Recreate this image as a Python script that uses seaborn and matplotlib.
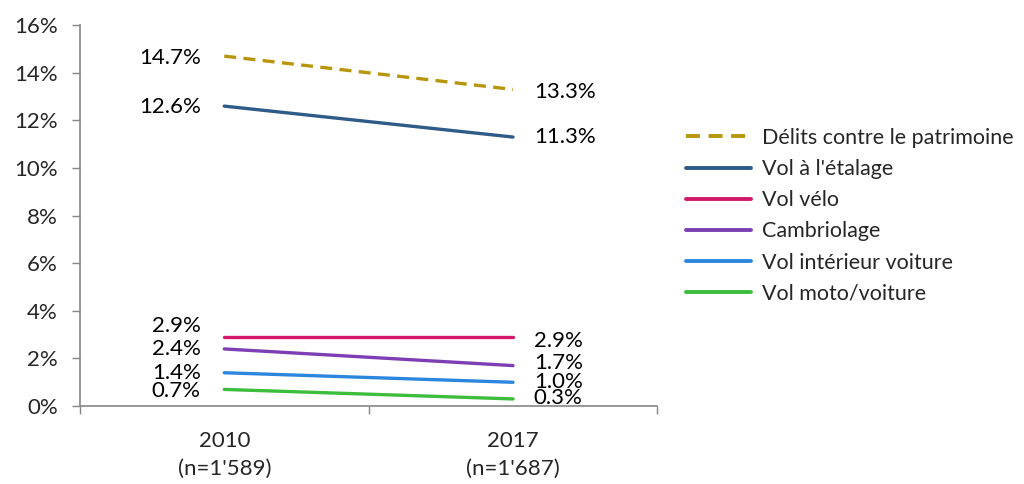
import matplotlib
matplotlib.use("Agg")
import matplotlib.pyplot as plt
import seaborn as sns
import pandas as pd
from matplotlib.ticker import FixedLocator, FuncFormatter

years = ["2010\n(n=1'589)", "2017\n(n=1'687)"]
series = ["Délits contre le patrimoine", "Vol à l'étalage", "Vol vélo",
          "Cambriolage", "Vol intérieur voiture", "Vol moto/voiture"]
v2010 = [14.7, 12.6, 2.9, 2.4, 1.4, 0.7]
v2017 = [13.3, 11.3, 2.9, 1.7, 1.0, 0.3]
colors = ["#B8960C", "#2F5B88", "#D5176A", "#7D3FB3", "#2D86DD", "#3CBD3C"]

rows = []
for s, a, b in zip(series, v2010, v2017):
    rows.append({"year": years[0], "val": a, "series": s})
    rows.append({"year": years[1], "val": b, "series": s})
df = pd.DataFrame(rows)

FS = 16
sns.set_theme(style="white")
plt.rcParams["font.family"] = ["Lato", "DejaVu Sans"]
plt.rcParams["font.size"] = FS

fig = plt.figure(figsize=(10.24, 4.84), dpi=100)
ax = fig.add_axes([0.078, 0.161, 0.564, 0.787])

palette = dict(zip(series, colors))
dashes = {s: "" for s in series}
dashes[series[0]] = (3.6, 2.2)
sns.lineplot(data=df, x="year", y="val", hue="series", style="series",
             palette=palette, dashes=dashes, hue_order=series, style_order=series,
             linewidth=2.4, ax=ax, sort=False)

ax.set_xlim(-0.5, 1.5)
ax.set_ylim(0, 16)
ax.set_yticks(range(0, 17, 2))
ax.yaxis.set_major_formatter(FuncFormatter(lambda v, p: f"{int(v)}%"))
ax.set_xticks([0, 1])
ax.set_xticklabels(years, linespacing=1.5)
ax.xaxis.set_minor_locator(FixedLocator([-0.5, 0.5, 1.5]))
ax.tick_params(axis="x", which="major", length=0, labelsize=FS, pad=18)
ax.tick_params(axis="x", which="minor", length=6, width=1, color="#868686", direction="out", bottom=True)
ax.tick_params(axis="y", which="major", length=6, width=1, color="#868686", direction="out", left=True, labelsize=FS, pad=10)
ax.set_xlabel("")
ax.set_ylabel("")
for sp in ["top", "right"]:
    ax.spines[sp].set_visible(False)
for sp in ["left", "bottom"]:
    ax.spines[sp].set_color("#868686")
    ax.spines[sp].set_linewidth(1.2)

left_off = {0: -1, 1: -1, 2: 8, 3: 0, 4: 0, 5: -1}
right_off = {0: -2, 1: 0, 2: -3, 3: 2, 4: 0, 5: 1}
for i, (a, b) in enumerate(zip(v2010, v2017)):
    ax.annotate(f"{a:.1f}%", xy=(0, a), xytext=(-17, left_off[i]), textcoords="offset points",
                ha="right", va="center", fontsize=FS, color="black")
    ax.annotate(f"{b:.1f}%", xy=(1, b), xytext=(15, right_off[i]), textcoords="offset points",
                ha="left", va="center", fontsize=FS, color="black")

leg = ax.legend(loc="upper left", bbox_to_anchor=(1.035, 0.753), frameon=False, fontsize=15.5,
                handlelength=3.0, handletextpad=0.5, labelspacing=0.52, borderaxespad=0)
for h in leg.get_lines():
    h.set_linewidth(2.8)

fig.savefig("out.png", dpi=100)
